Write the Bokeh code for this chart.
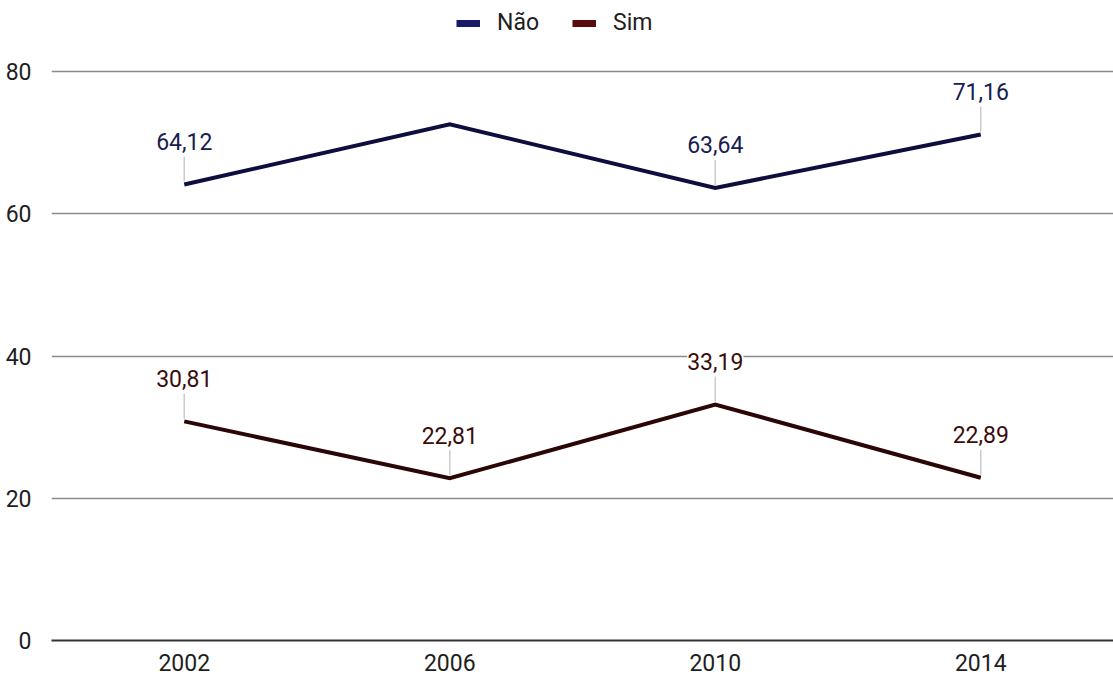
from bokeh.plotting import figure
from bokeh.layouts import column
from bokeh.models import FactorRange, Range1d, Legend, LegendItem, ColumnDataSource, FixedTicker
from bokeh.core.properties import value
from bokeh.embed import file_html
from bokeh.resources import INLINE

# Data
years = ["2002", "2006", "2010", "2014"]
nao = [64.12, 72.6, 63.64, 71.16]
sim = [30.81, 22.81, 33.19, 22.89]
nao_labelled = [True, False, True, True]
sim_labelled = [True, True, True, True]
y_ticks = [0, 20, 40, 60, 80]
series_names = ["Não", "Sim"]

FONT = "Roboto"
FONT_SIZE = "23px"
NAO_LINE = "#0c0f3d"
SIM_LINE = "#2a0606"
NAO_TEXT = "#17204f"
SIM_TEXT = "#3a0c0c"
NAO_KEY = "#141c6a"
SIM_KEY = "#5a0b0b"

W = 1113
HEAD_H = 48          # strip holding the legend
MAIN_H = 675 - HEAD_H
TOP = 64 - HEAD_H
Y_END = 81
BOTTOM, LEFT = 35, 51
FRAME_H = MAIN_H - TOP - BOTTOM
PX_PER_UNIT = FRAME_H / Y_END

# ---- legend strip ----
head = figure(
    width=W, height=HEAD_H,
    x_range=Range1d(0, 1), y_range=Range1d(0, 1),
    output_backend="svg", toolbar_location=None,
    min_border=0,
)
head.axis.visible = False
head.grid.visible = False
head.outline_line_color = None
head.background_fill_color = "white"
head.border_fill_color = "white"

nan = float("nan")
k1 = head.line(x=[nan], y=[nan], line_color=NAO_KEY, line_width=7)
k2 = head.line(x=[nan], y=[nan], line_color=SIM_KEY, line_width=7)
legend = Legend(
    items=[LegendItem(label=series_names[0], renderers=[k1]),
           LegendItem(label=series_names[1], renderers=[k2])],
    orientation="horizontal",
    location=(405, HEAD_H - 36),
    border_line_color=None, background_fill_alpha=0,
    padding=0, margin=0, spacing=33,
    glyph_width=24, glyph_height=26, label_standoff=17,
    label_text_font=FONT, label_text_font_size=FONT_SIZE, label_text_color="#1e1e1e",
)
head.add_layout(legend, "center")

# ---- main chart ----
p = figure(
    width=W, height=MAIN_H,
    x_range=FactorRange(*years, range_padding=0),
    y_range=Range1d(0, Y_END),
    output_backend="svg", toolbar_location=None,
    min_border_left=LEFT, min_border_right=0,
    min_border_top=TOP, min_border_bottom=BOTTOM,
)
p.outline_line_color = None
p.background_fill_color = "white"
p.border_fill_color = "white"

p.yaxis.ticker = FixedTicker(ticks=y_ticks)
p.yaxis.axis_line_color = None
p.yaxis.major_tick_line_color = None
p.yaxis.minor_tick_line_color = None
p.yaxis.major_label_standoff = 14
p.yaxis.major_label_text_font = FONT
p.yaxis.major_label_text_font_size = FONT_SIZE
p.yaxis.major_label_text_color = "#1e1e1e"

p.xaxis.axis_line_color = "#333333"
p.xaxis.axis_line_width = 2
p.xaxis.major_tick_line_color = None
p.xaxis.minor_tick_line_color = None
p.xaxis.major_label_standoff = 7
p.xaxis.major_label_text_font = FONT
p.xaxis.major_label_text_font_size = FONT_SIZE
p.xaxis.major_label_text_color = "#1e1e1e"

p.xgrid.grid_line_color = None
p.ygrid.grid_line_color = "#8a8a8a"
p.ygrid.grid_line_width = 1.5

p.line(years, nao, line_color=NAO_LINE, line_width=4, line_join="miter")
p.line(years, sim, line_color=SIM_LINE, line_width=4, line_join="miter")


def add_labels(vals, mask, color):
    xs = [y for y, m in zip(years, mask) if m]
    vs = [v for v, m in zip(vals, mask) if m]
    src = ColumnDataSource(dict(
        x=xs,
        y=vs,
        y0=[v + 3 / PX_PER_UNIT for v in vs],
        y1=[v + 28 / PX_PER_UNIT for v in vs],
        t=[f"{v:.2f}".replace(".", ",") for v in vs],
    ))
    p.segment(x0="x", y0="y0", x1="x", y1="y1", source=src,
              line_color="#cccccc", line_width=1.5)
    p.text(x="x", y="y", text="t", source=src, y_offset=-43,
           text_align="center", text_baseline="alphabetic",
           text_font=value(FONT), text_font_size=FONT_SIZE, text_color=color,
           background_fill_color="white", padding=0)


add_labels(nao, nao_labelled, NAO_TEXT)
add_labels(sim, sim_labelled, SIM_TEXT)

layout = column(head, p, spacing=0)
open("out.html", "w").write(file_html(layout, INLINE))
